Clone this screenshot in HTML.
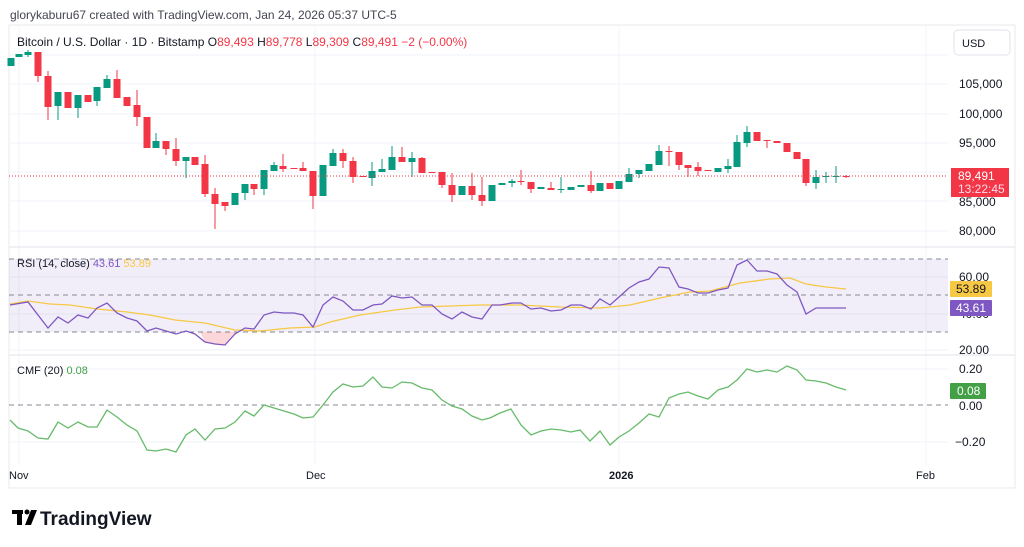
<!DOCTYPE html>
<html><head><meta charset="utf-8"><style>
body{margin:0;width:1024px;height:547px;background:#fff;overflow:hidden;font-family:"Liberation Sans",sans-serif;}
svg{position:absolute;left:0;top:0}
</style></head><body>
<svg id="s" width="1024" height="547" xmlns="http://www.w3.org/2000/svg" font-family="Liberation Sans, sans-serif">
<rect x="9" y="25" width="1006" height="463" fill="none" stroke="#e8e8e8"/>
<g stroke="#f0f3fa" stroke-width="1">
<line x1="9" y1="55" x2="948" y2="55"/><line x1="9" y1="84" x2="948" y2="84"/><line x1="9" y1="114" x2="948" y2="114"/><line x1="9" y1="143" x2="948" y2="143"/><line x1="9" y1="172" x2="948" y2="172"/><line x1="9" y1="201" x2="948" y2="201"/><line x1="9" y1="231" x2="948" y2="231"/>
<line x1="19" y1="25" x2="19" y2="465"/><line x1="315" y1="25" x2="315" y2="465"/><line x1="619" y1="25" x2="619" y2="465"/><line x1="926" y1="25" x2="926" y2="465"/>
<line x1="9" y1="277" x2="948" y2="277"/><line x1="9" y1="314" x2="948" y2="314"/><line x1="9" y1="350" x2="948" y2="350"/>
<line x1="9" y1="369" x2="948" y2="369"/><line x1="9" y1="442" x2="948" y2="442"/>
</g>
<line x1="9" y1="355" x2="1015" y2="355" stroke="#e0e3eb"/>
<line x1="9" y1="247" x2="1015" y2="247" stroke="#e0e3eb"/>
<rect x="9" y="259" width="939" height="73" fill="#7e57c2" fill-opacity="0.1"/>
<g stroke="#868993" stroke-dasharray="5,4" stroke-width="1">
<line x1="9" y1="259" x2="948" y2="259"/><line x1="9" y1="295" x2="948" y2="295"/><line x1="9" y1="332" x2="948" y2="332"/><line x1="9" y1="405" x2="948" y2="405"/>
</g>
<polygon points="200,332 205,342 215,344 225,345 235,334 237,332" fill="#f23645" fill-opacity="0.2"/>
<g id="c"></g>
<line x1="9" y1="176" x2="948" y2="176" stroke="#f23645" stroke-dasharray="1,2"/>
<polyline fill="none" stroke="#f7c843" stroke-width="1.3" points="10,304 28,301 50,304 70,305 97,309 127,312 150,315 175,320 205,323 235,330 260,331 290,328 315,327 330,322 360,315 395,310 420,307 450,306 480,305 520,305 560,307 600,308 630,305 660,298 690,292 710,291 740,283 770,279 790,278 806,284 826,287 846,289"/>
<polyline fill="none" stroke="#7e57c2" stroke-width="1.3" points="10,305 28,302 48,328 58,317 68,323 78,315 88,318 97,308 107,303 117,313 127,318 137,321 147,331 156,328 166,331 176,334 186,331 195,334 205,342 215,344 225,345 235,334 245,328 254,329 264,315 274,312 284,313 294,313 303,315 313,327 323,305 333,297 343,301 353,310 363,310 373,305 382,304 392,296 402,298 412,297 422,305 432,305 442,314 452,319 462,312 472,317 482,319 492,305 500,305 512,303 521,303 531,309 541,308 551,311 561,310 571,305 581,305 591,309 600,299 610,305 619,297 629,288 639,282 649,279 659,267 669,268 679,287 688,289 698,293 708,293 718,290 728,288 737,265 747,260 757,271 767,271 777,274 787,285 797,292 806,314 816,308 826,308 836,308 846,308"/>
<polyline fill="none" stroke="#66bb6a" stroke-width="1.3" points="10,420 18,428 28,431 38,438 48,439 58,422 68,428 78,422 88,427 97,427 107,410 117,417 127,425 137,431 147,450 156,451 166,449 176,452 186,435 195,429 205,440 215,429 225,428 235,422 245,411 254,416 264,405 274,408 284,411 294,414 303,418 313,417 323,405 333,392 343,384 353,387 363,386 373,377 382,387 392,388 402,382 412,383 422,388 432,390 442,400 452,406 462,409 472,416 482,420 490,418 500,413 511,409 521,425 531,435 541,431 551,429 561,430 571,432 580,430 590,441 600,431 610,445 619,437 629,431 639,423 649,414 659,417 669,398 679,394 688,392 698,396 708,399 718,390 728,387 737,380 747,369 757,372 767,370 777,372 787,366 797,370 806,380 816,381 826,383 836,387 846,390"/>
<text x="10" y="19" font-size="12" fill="#434651">glorykaburu67 created with TradingView.com, Jan 24, 2026 05:37 UTC-5</text>
<text x="17" y="46" font-size="12" fill="#131722">Bitcoin / U.S. Dollar · 1D · Bitstamp  O<tspan fill="#f23645">89,493</tspan>  H<tspan fill="#f23645">89,778</tspan>  L<tspan fill="#f23645">89,309</tspan>  C<tspan fill="#f23645">89,491</tspan>  <tspan fill="#f23645">−2 (−0.00%)</tspan></text>
<rect x="954" y="30" width="56" height="25" rx="4" fill="#fff" stroke="#e0e3eb"/>
<text x="962" y="47" font-size="11" fill="#131722">USD</text>
<g font-size="12" fill="#131722">
<text x="959" y="88">105,000</text><text x="959" y="118">100,000</text><text x="959" y="147">95,000</text><text x="959" y="206">85,000</text><text x="959" y="235">80,000</text>
<text x="959" y="281">60.00</text><text x="959" y="318">40.00</text><text x="959" y="354">20.00</text>
<text x="959" y="373">0.20</text><text x="959" y="410">0.00</text><text x="955" y="446">−0.20</text>
</g>
<rect x="951" y="168" width="58" height="29" fill="#f23645"/>
<text x="958" y="180" font-size="12" fill="#fff">89,491</text>
<text x="958" y="193" font-size="12" fill="#fde">13:22:45</text>
<rect x="950" y="281" width="42" height="16" rx="1" fill="#f7c843"/>
<text x="956" y="293" font-size="12" fill="#131722">53.89</text>
<rect x="950" y="300" width="42" height="16" rx="1" fill="#7e57c2"/>
<text x="956" y="312" font-size="12" fill="#fff">43.61</text>
<rect x="950" y="383" width="36" height="16" rx="1" fill="#43a047"/>
<text x="957" y="395" font-size="12" fill="#fff">0.08</text>
<text x="17" y="267" font-size="11" fill="#131722">RSI (14, close)  <tspan fill="#7e57c2">43.61</tspan>  <tspan fill="#f7c843">53.89</tspan></text>
<text x="17" y="374" font-size="11" fill="#131722">CMF (20)  <tspan fill="#43a047">0.08</tspan></text>
<g font-size="11" fill="#131722"><text x="9" y="479">Nov</text><text x="306" y="479">Dec</text><text x="609" y="479" font-weight="bold">2026</text><text x="916" y="479">Feb</text></g>
<g fill="#000"><rect x="12" y="510" width="11" height="4"/><rect x="17" y="510" width="5" height="15"/><circle cx="27" cy="512" r="2.5"/><polygon points="31,510 37,510 31,525 25,525"/></g>
<text x="40" y="525" font-size="19" font-weight="bold" fill="#131722">TradingView</text>
</svg>
<script>
var d=[[11,66,58,0,0,1],[19,57,54,0,0,1],[28,55,52,50,57,1],[38,52,76,0,82,0],[48,76,107,71,120,0],[58,106,92,0,120,1],[68,92,108,0,0,0],[78,108,95,0,118,1],[88,95,102,0,0,0],[97,101,87,0,106,1],[107,88,79,75,0,1],[117,79,98,70,0,0],[127,97,106,0,0,0],[137,105,117,90,126,0],[147,117,148,0,0,0],[156,148,141,133,0,1],[166,141,149,0,155,0],[176,149,161,138,166,0],[186,161,157,0,178,1],[195,157,165,0,0,0],[205,164,194,155,197,0],[215,194,204,188,229,0],[225,202,206,0,211,0],[235,205,193,0,0,1],[245,193,184,0,200,1],[254,184,189,0,195,0],[264,189,170,0,195,1],[274,171,165,162,0,1],[283,166,169,154,172,0],[294,168,169,0,0,0],[303,168,171,162,0,0],[313,171,196,0,209,0],[323,196,165,0,0,1],[333,166,153,149,0,1],[343,153,161,149,168,0],[353,161,177,157,183,0],[363,176,177,0,0,0],[372,178,171,162,186,1],[382,172,169,159,0,1],[392,170,157,146,0,1],[402,157,162,147,0,0],[412,162,158,152,177,1],[422,158,173,157,0,0],[432,172,173,0,0,0],[442,172,185,0,188,0],[452,185,195,173,202,0],[462,195,186,0,0,1],[472,186,195,173,200,0],[482,195,201,177,206,0],[492,201,185,0,0,1],[502,185,183,0,0,1],[512,183,181,179,187,1],[521,181,182,170,185,0],[531,182,189,0,193,0],[541,189,187,0,0,1],[551,188,190,182,0,0],[561,189,190,177,193,1],[571,190,187,0,0,1],[581,187,185,0,0,1],[591,185,191,171,193,0],[600,191,183,0,0,1],[610,183,189,0,0,0],[619,189,181,0,0,1],[629,182,174,168,0,1],[639,174,170,0,178,1],[649,171,164,0,0,1],[659,165,151,145,0,1],[669,151,152,146,166,0],[679,152,165,0,170,0],[688,165,168,0,177,0],[698,167,171,162,176,0],[708,170,171,0,0,0],[718,172,168,0,0,1],[728,169,166,159,173,1],[737,167,142,135,0,1],[747,143,132,126,147,1],[757,132,141,0,0,0],[767,140,141,0,148,0],[777,141,143,0,0,0],[787,143,152,0,0,0],[797,152,159,0,0,0],[806,159,183,0,186,0],[816,183,177,170,189,1],[826,176,177,172,183,1],[836,176,177,166,183,1],[846,176,177,175,178,0]];
var h='';d.forEach(function(c){var col=c[5]?'#089981':'#f23645';var t=Math.min(c[1],c[2]),b=Math.max(c[1],c[2]);var wt=c[3]||t,wb=c[4]||b;
h+='<line x1="'+c[0]+'" x2="'+c[0]+'" y1="'+wt+'" y2="'+wb+'" stroke="'+col+'" stroke-width="1"/>';
h+='<rect x="'+(c[0]-3.5)+'" y="'+t+'" width="7" height="'+Math.max(1,b-t)+'" fill="'+col+'"/>';});
document.getElementById('c').innerHTML=h;
</script>
</body></html>
